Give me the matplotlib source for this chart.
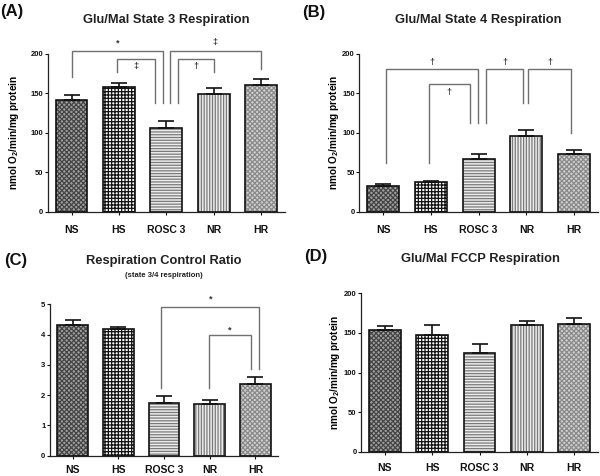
import matplotlib
matplotlib.use("Agg")
import matplotlib.pyplot as plt
import numpy as np

plt.rcParams['font.family'] = ['Liberation Sans', 'DejaVu Sans']
plt.rcParams['font.weight'] = 'bold'
plt.rcParams['mathtext.fontset'] = 'custom'
plt.rcParams['mathtext.rm'] = 'Liberation Sans:bold'
plt.rcParams['mathtext.bf'] = 'Liberation Sans:bold'
plt.rcParams['mathtext.default'] = 'bf'
plt.rcParams['hatch.linewidth'] = 0.9

# ---------------- data ----------------
categories = ["NS", "HS", "ROSC 3", "NR", "HR"]

state3_mean = [141.6, 158.5, 106.4, 149.2, 160.2]
state3_err = [6.4, 5.0, 8.1, 8.0, 7.7]

state4_mean = [33.0, 37.2, 66.8, 96.0, 73.6]
state4_err = [2.1, 2.1, 6.8, 7.6, 4.6]

rcr_mean = [4.31, 4.18, 1.73, 1.71, 2.38]
rcr_err = [0.17, 0.08, 0.24, 0.12, 0.21]

fccp_mean = [153.4, 147.5, 125.2, 160.1, 160.9]
fccp_err = [5.8, 12.6, 11.4, 5.0, 7.6]

# significance brackets: (x_left, x_right, y_line, y_left_end, y_right_end, symbol, y_symbol)
brackets_A = [
    (0.00, 1.94, 204.2, 170.4, 137.4, "*", 214.0),
    (0.95, 1.77, 193.3, 176.8, 137.4, "\u2021", 183.5),
    (2.07, 4.00, 204.2, 137.4, 180.6, "\u2021", 214.0),
    (2.24, 3.00, 193.3, 137.4, 177.5, "\u2020", 183.5),
]
brackets_B = [
    (0.05, 1.98, 181.0, 61.3, 112.9, "\u2020", 189.4),
    (0.96, 1.81, 161.5, 61.3, 112.9, "\u2020", 151.4),
    (2.16, 2.94, 181.0, 112.9, 138.3, "\u2020", 189.4),
    (3.04, 3.93, 181.0, 138.3, 99.4, "\u2020", 189.4),
]
brackets_C = [
    (1.94, 4.08, 4.91, 2.25, 2.85, "*", 5.17),
    (2.99, 3.90, 4.00, 2.25, 2.85, "*", 4.14),
]
brackets_D = []

# ---------------- styles ----------------
W, H = 600, 476
fig = plt.figure(figsize=(6.0, 4.76), dpi=100)

bar_styles = [
    dict(face="#a0a0a0", hatch="xxxxxxx", hcol="#454545"),
    dict(face="#ffffff", hatch="+++++", hcol="#111111"),
    dict(face="#ececec", hatch="------", hcol="#7a7a7a"),
    dict(face="#ececec", hatch="||||||", hcol="#7a7a7a"),
    dict(face="#cfcfcf", hatch="xxxxxxx", hcol="#8a8a8a"),
]


def px_axes(left, right, top, bottom):
    return fig.add_axes([left / W, 1 - bottom / H, (right - left) / W, (bottom - top) / H])


def draw_panel(ax, means, errs, ymax, yticks, brackets, xpad):
    x = np.arange(len(categories))
    for i, st in enumerate(bar_styles):
        ax.bar(x[i], means[i], width=0.67, color=st["face"], edgecolor=st["hcol"],
               hatch=st["hatch"], linewidth=0, zorder=2)
    ax.bar(x, means, width=0.67, facecolor="none", edgecolor="#111111", linewidth=1.2, zorder=3)
    ax.errorbar(x, means, yerr=[np.zeros(len(x)), errs], fmt="none", ecolor="#111111",
                elinewidth=1.2, capsize=5.5, capthick=1.2, zorder=4)
    ax.set_xlim(-0.5, len(x) - 0.5)
    ax.set_ylim(0, ymax)
    ax.set_yticks(yticks)
    ax.set_xticks(x)
    ax.set_xticklabels(categories, fontsize=7.5, fontweight="bold")
    for lbl in ax.get_yticklabels():
        lbl.set_fontsize(5.5)
        lbl.set_fontweight("bold")
    ax.tick_params(axis="x", length=2.5, width=0.8, pad=xpad, colors="#111111")
    ax.tick_params(axis="y", length=2.0, width=0.8, pad=1.2, colors="#111111")
    for s in ["top", "right"]:
        ax.spines[s].set_visible(False)
    for s in ["left", "bottom"]:
        ax.spines[s].set_linewidth(0.9)
        ax.spines[s].set_color("#222222")
    for (xl, xr, yl, y1, y2, sym, ys) in brackets:
        ax.plot([xl, xl, xr, xr], [y1, yl, yl, y2], color="#707070", lw=1.0,
                clip_on=False, zorder=5, solid_joinstyle="miter")
        ax.text((xl + xr) / 2, ys, sym, ha="center", va="center", fontsize=6.5,
                fontweight="bold", color="#333333", clip_on=False)


ylab = "nmol O$_{2}$/min/mg protein"

# Panel A
axA = px_axes(47.8, 284.8, 54.0, 211.5)
draw_panel(axA, state3_mean, state3_err, 200, [0, 50, 100, 150, 200], brackets_A, 7)
axA.set_ylabel(ylab, fontsize=7.2, fontweight="bold", va="center")
axA.yaxis.set_label_coords(-33.5 / 237.0, 0.5)

# Panel B
axB = px_axes(359.4, 597.9, 54.0, 211.7)
draw_panel(axB, state4_mean, state4_err, 200, [0, 50, 100, 150, 200], brackets_B, 7)
axB.set_ylabel(ylab, fontsize=7.2, fontweight="bold", va="center")
axB.yaxis.set_label_coords(-25.5 / 238.5, 0.5)

# Panel C
axC = px_axes(49.8, 278.3, 304.3, 455.7)
draw_panel(axC, rcr_mean, rcr_err, 5, [0, 1, 2, 3, 4, 5], brackets_C, 4)

# Panel D
axD = px_axes(361.0, 598.0, 293.3, 452.0)
draw_panel(axD, fccp_mean, fccp_err, 200, [0, 50, 100, 150, 200], brackets_D, 5.5)
axD.set_ylabel(ylab, fontsize=7.2, fontweight="bold", va="center")
axD.yaxis.set_label_coords(-25.5 / 237.0, 0.5)


def ftext(xp, yp, s, **kw):
    fig.text(xp / W, 1 - yp / H, s, **kw)


title_kw = dict(ha="center", va="center", fontsize=9.3, fontweight="bold", color="#222222")
ftext(166.3, 20.0, "Glu/Mal State 3 Respiration", **title_kw)
ftext(478.7, 20.0, "Glu/Mal State 4 Respiration", **title_kw)
ftext(164.0, 261.0, "Respiration Control Ratio", **title_kw)
ftext(164.0, 275.5, "(state 3/4 respiration)", ha="center", va="center", fontsize=5.5,
      fontweight="bold", color="#222222")
ftext(480.0, 259.3, "Glu/Mal FCCP Respiration", **title_kw)

lab_kw = dict(ha="left", va="center", fontsize=12, fontweight="bold", color="#111111")
ftext(0.0, 11.5, "(A)", **lab_kw)
ftext(302.0, 12.0, "(B)", **lab_kw)
ftext(4.0, 260.0, "(C)", **lab_kw)
ftext(304.0, 257.0, "(D)", **lab_kw)

fig.savefig("out.png", dpi=100)
